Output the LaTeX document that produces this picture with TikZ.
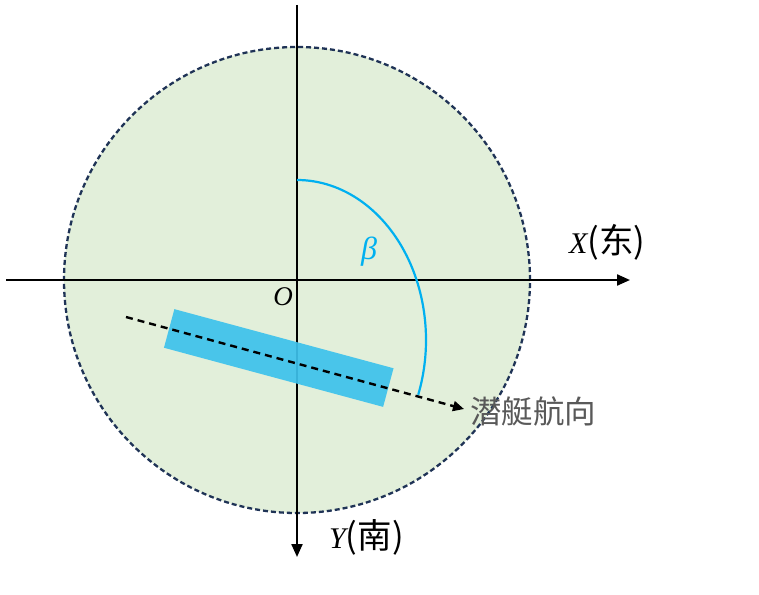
\documentclass[tikz,border=0pt]{standalone}
\usepackage{fontspec}
\newfontfamily\cjk{Noto Sans CJK SC}
\newfontfamily\serif{Liberation Serif}
\usetikzlibrary{arrows.meta}
\definecolor{circfill}{HTML}{E2EFDA}
\definecolor{circline}{HTML}{1F3356}
\definecolor{subblue}{HTML}{3DC2EC}
\definecolor{arcblue}{HTML}{00B0F0}
\definecolor{labgray}{HTML}{595959}
\tikzset{
  axisline/.style={line width=2.2pt, -{Triangle[length=13pt,width=11pt]}},
  headline/.style={line width=2.4pt, dash pattern=on 7pt off 5pt, -{Triangle[length=11pt,width=10pt]}},
  lab/.style={inner sep=0pt, font=\cjk\fontsize{31.5}{33}\selectfont},
  axlab/.style={inner sep=0pt, font=\cjk\fontsize{34.5}{36}\selectfont},
  mathit/.style={inner sep=0pt, font=\serif\itshape\fontsize{#1}{#1}\selectfont},
}
\begin{document}
\begin{tikzpicture}[x=1pt,y=-1pt]
\useasboundingbox (0,0) rectangle (759,594);
\coordinate (O) at (297,280);
% circle
\draw[circline, fill=circfill, line width=2.3pt, dash pattern=on 5pt off 3pt] (O) circle[radius=233pt];
% axes
\coordinate (xs) at (6,280);
\coordinate (xe) at (630,280);
\coordinate (ys) at (297,5);
\coordinate (ye) at (297,557);
\draw[axisline] (xs) -- (xe);
\draw[axisline] (ys) -- (ye);
% submarine
\node[fill=subblue, fill opacity=0.92, minimum width=227pt, minimum height=40pt, inner sep=0pt, rotate=-15.1] (sub) at (278.75,358) {};
% heading line
\coordinate (hs) at (126,317);
\coordinate (he) at (464,409);
\draw[headline] (hs) -- (he);
% angle arc
\coordinate (arcstart) at (297,180);
\draw[arcblue, line width=2.2pt] (arcstart) arc[start angle=90, end angle=-20, x radius=129pt, y radius=160pt];
% labels
\node[mathit=32, arcblue] (beta) at (369,252) {β};
\node[mathit=27] (olab) at (283,297) {O};
\node[axlab, anchor=base west] (xlab) at (569,253) {{\serif\itshape\fontsize{30}{30}\selectfont X}(东)};
\node[axlab, anchor=base west] (ylab) at (329,548) {{\serif\itshape\fontsize{30}{30}\selectfont Y}(南)};
\node[lab, labgray, anchor=west] (hlab) at (470,411) {潜艇航向};
\end{tikzpicture}
\end{document}
